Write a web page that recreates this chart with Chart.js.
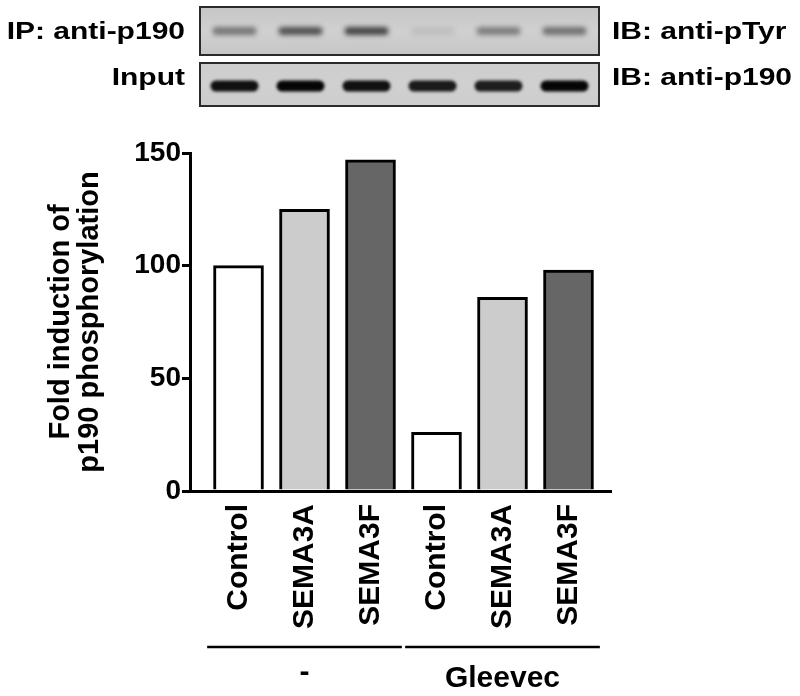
<!DOCTYPE html>
<html>
<head>
<meta charset="utf-8">
<script src="https://cdn.jsdelivr.net/npm/chart.js@4.4.1/dist/chart.umd.min.js"></script>
<style>
  html, body { margin: 0; padding: 0; background: #ffffff; }
  #wrap { position: relative; width: 800px; height: 696px; }
</style>
</head>
<body>
<div id="wrap"><canvas id="c"></canvas></div>
<script>
// ---- data ----
const categories = ['Control', 'SEMA3A', 'SEMA3F', 'Control', 'SEMA3A', 'SEMA3F'];
const foldInduction = [100, 125, 147, 26, 86, 98];
const barColors = ['#ffffff', '#cccccc', '#666666', '#ffffff', '#cccccc', '#666666'];
const yTicks = [0, 50, 100, 150];
const yTitle = ['Fold induction of', 'p190 phosphorylation'];
const groups = ['-', 'Gleevec'];
const groupStart = [0, 3];
const groupEnd = [2, 5];
// blot band intensities (0..1) per lane
const pTyrBands = [0.55, 0.78, 0.85, 0.10, 0.50, 0.58];
const inputBands = [0.95, 1.0, 0.95, 0.9, 0.88, 1.0];
const blotLeftLabels = ['IP: anti-p190', 'Input'];
const blotRightLabels = ['IB: anti-pTyr', 'IB: anti-p190'];

const FONT = "'Liberation Sans', Arial, Helvetica, sans-serif";

const blotPlugin = {
  id: 'blot',
  afterDraw(chart) {
    const ctx = chart.ctx;
    const xs = chart.scales.x;
    const boxL = 200, boxR = 599;
    const rows = [
      { top: 7, bottom: 55, bg: '#c6c6c6', bands: pTyrBands, bh: 8, bw: 44, col: [45, 45, 45], blur: 2.4 },
      { top: 63, bottom: 106, bg: '#cdcdcd', bands: inputBands, bh: 11, bw: 48, col: [5, 5, 5], blur: 1.5 }
    ];
    ctx.save();
    rows.forEach((r, k) => {
      const g = ctx.createLinearGradient(0, r.top, 0, r.bottom);
      g.addColorStop(0, r.bg);
      g.addColorStop(0.5, '#d0d0d0');
      g.addColorStop(1, r.bg);
      ctx.fillStyle = g;
      ctx.fillRect(boxL, r.top, boxR - boxL, r.bottom - r.top);
      const cy = k === 0 ? 31 : 86;
      r.bands.forEach((a, i) => {
        const cx = xs.getPixelForValue(i) - 4;
        ctx.save();
        ctx.filter = 'blur(' + r.blur + 'px)';
        ctx.fillStyle = 'rgba(' + r.col.join(',') + ',' + a + ')';
        ctx.beginPath();
        ctx.roundRect(cx - r.bw / 2, cy - r.bh / 2, r.bw, r.bh, r.bh / 2);
        ctx.fill();
        ctx.restore();
      });
      ctx.strokeStyle = '#2a2a2a';
      ctx.lineWidth = 2;
      ctx.strokeRect(boxL, r.top, boxR - boxL, r.bottom - r.top);
    });
    // blot labels
    ctx.fillStyle = '#000';
    ctx.font = 'bold 24px ' + FONT;
    ctx.textBaseline = 'alphabetic';
    const baselines = [39, 85];
    blotLeftLabels.forEach((t, k) => {
      ctx.save();
      ctx.translate(185, baselines[k]);
      ctx.scale(1.25, 1);
      ctx.textAlign = 'right';
      ctx.fillText(t, 0, 0);
      ctx.restore();
    });
    blotRightLabels.forEach((t, k) => {
      ctx.save();
      ctx.translate(612, baselines[k]);
      ctx.scale(1.25, 1);
      ctx.textAlign = 'left';
      ctx.fillText(t, 0, 0);
      ctx.restore();
    });
    // group brackets and labels under the x axis
    ctx.strokeStyle = '#000';
    ctx.lineWidth = 2.5;
    ctx.textAlign = 'center';
    groups.forEach((name, k) => {
      const x0 = xs.getPixelForValue(groupStart[k] - 0.475);
      const x1 = xs.getPixelForValue(groupEnd[k] + 0.475);
      ctx.beginPath();
      ctx.moveTo(x0, 647);
      ctx.lineTo(x1, 647);
      ctx.stroke();
      ctx.font = 'bold 30px ' + FONT;
      ctx.fillText(name, (x0 + x1) / 2, name === '-' ? 681 : 687);
    });
    ctx.restore();
  }
};

new Chart(document.getElementById('c'), {
  type: 'bar',
  data: {
    datasets: [{
      data: categories.map((c, i) => ({ x: i, y: foldInduction[i] })),
      backgroundColor: barColors,
      borderColor: '#000',
      borderWidth: 3,
      borderSkipped: 'bottom',
      barThickness: 50
    }]
  },
  options: {
    responsive: true,
    maintainAspectRatio: false,
    animation: false,
    layout: { padding: { top: 153, right: 189, bottom: 0, left: 0 } },
    plugins: { legend: { display: false }, tooltip: { enabled: false } },
    scales: {
      x: {
        type: 'linear',
        offset: false,
        min: -0.735,
        max: 5.644,
        afterBuildTicks: s => { s.ticks = categories.map((c, i) => ({ value: i })); },
        afterFit: s => { s.height = 205; },
        grid: { display: false, drawTicks: false, offset: false },
        border: { display: true, color: '#000', width: 3 },
        ticks: {
          autoSkip: false,
          maxRotation: 90,
          minRotation: 90,
          padding: 13,
          color: '#000',
          font: { family: FONT, weight: 'bold', size: 30 },
          callback: v => categories[v]
        }
      },
      y: {
        min: 0,
        max: 150,
        afterBuildTicks: s => { s.ticks = yTicks.map(v => ({ value: v })); },
        afterFit: s => { s.width = 190; },
        grid: { display: true, drawOnChartArea: false, drawTicks: true, tickLength: 8, color: '#000', lineWidth: 3 },
        border: { display: true, color: '#000', width: 3 },
        ticks: {
          padding: 1,
          color: '#000',
          font: { family: FONT, weight: 'bold', size: 28 }
        },
        title: {
          display: true,
          text: yTitle,
          color: '#000',
          font: { family: FONT, weight: 'bold', size: 29, lineHeight: 1 },
          padding: { top: 46, bottom: 0 }
        }
      }
    }
  },
  plugins: [blotPlugin]
});
</script>
</body>
</html>
